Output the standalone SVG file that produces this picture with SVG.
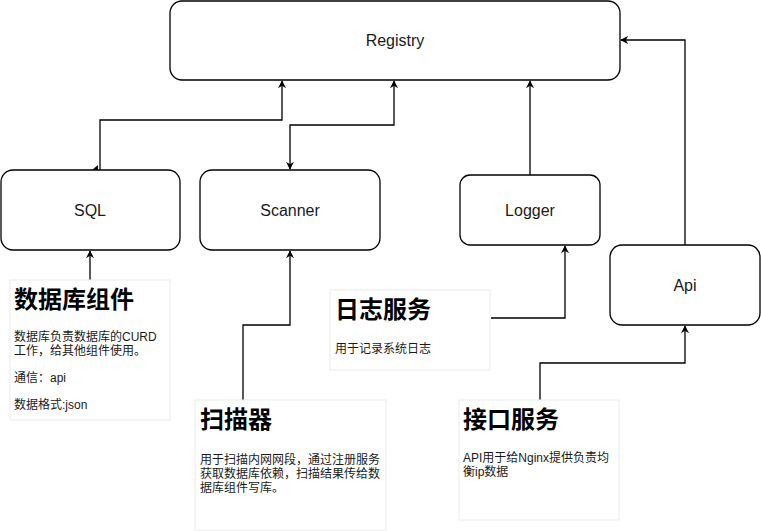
<svg xmlns="http://www.w3.org/2000/svg" width="761" height="531" viewBox="0 0 761 531">
<style>
.node{fill:#fff;stroke:#000;stroke-width:1.3}
.lbl{font-family:"Liberation Sans",Arial,sans-serif;font-size:16px;fill:#1a1a1a;text-anchor:middle}
.note{fill:#fff;stroke:#ececec;stroke-width:1}
.ttl{font-family:"Liberation Sans","Noto Sans CJK SC",sans-serif;font-size:24px;font-weight:bold;fill:#000}
.body{font-family:"Liberation Sans","Noto Sans CJK SC",sans-serif;font-size:12px;fill:#1a1a1a}
.c{fill:none;stroke:#000;stroke-width:1.3}
</style>
<defs>
<marker id="ah" viewBox="0 0 10 10" refX="9" refY="5" markerWidth="8" markerHeight="8" markerUnits="userSpaceOnUse" orient="auto-start-reverse">
<path d="M0,0 L10,5 L0,10 L3,5 Z" fill="#000"/>
</marker>
</defs>
<rect width="761" height="531" fill="#fff"/>
<g id="connectors">
<path class="c" d="M100,170 V120 H282 V81" marker-end="url(#ah)"/>
<polygon points="92,170 98,165 98,170" fill="#000"/>
<path class="c" d="M394,81 V125 H290 V169" marker-start="url(#ah)" marker-end="url(#ah)"/>
<path class="c" d="M530,175 V81" stroke="#555" marker-end="url(#ah)"/>
<path class="c" d="M685,245 V40 H621" marker-end="url(#ah)"/>
<path class="c" d="M90,280 V251" marker-end="url(#ah)"/>
<path class="c" d="M243,400 V325 H290 V251" marker-end="url(#ah)"/>
<path class="c" d="M491,318 H565 V246" marker-end="url(#ah)"/>
<path class="c" d="M540,400 V363 H685 V326" marker-end="url(#ah)"/>
</g>
<g id="registry">
<rect class="node" x="170" y="1" width="450" height="79" rx="12"/>
<text class="lbl" x="395" y="46">Registry</text>
</g>
<g id="sql">
<rect class="node" x="1" y="170" width="179" height="80" rx="12"/>
<text class="lbl" x="90" y="216">SQL</text>
</g>
<g id="scanner">
<rect class="node" x="200" y="170" width="180" height="80" rx="12"/>
<text class="lbl" x="290" y="216">Scanner</text>
</g>
<g id="logger">
<rect class="node" x="460" y="175" width="140" height="70" rx="10"/>
<text class="lbl" x="530" y="216">Logger</text>
</g>
<g id="api">
<rect class="node" x="610" y="245" width="150" height="80" rx="12"/>
<text class="lbl" x="685" y="291">Api</text>
</g>
<g id="note-db">
<rect class="note" x="10" y="280" width="160" height="140"/>
<text class="ttl" x="14" y="308">数据库组件</text>
<text class="body" x="14" y="341">数据库负责数据库的CURD</text>
<text class="body" x="14" y="355">工作，给其他组件使用。</text>
<text class="body" x="14" y="382">通信：api</text>
<text class="body" x="14" y="409">数据格式:json</text>
</g>
<g id="note-scanner">
<rect class="note" x="195" y="400" width="191" height="130"/>
<text class="ttl" x="200" y="428">扫描器</text>
<text class="body" x="200" y="464">用于扫描内网网段，通过注册服务</text>
<text class="body" x="200" y="478">获取数据库依赖，扫描结果传给数</text>
<text class="body" x="200" y="492">据库组件写库。</text>
</g>
<g id="note-logger">
<rect class="note" x="330" y="290" width="160" height="80"/>
<text class="ttl" x="335" y="318">日志服务</text>
<text class="body" x="335" y="353">用于记录系统日志</text>
</g>
<g id="note-api">
<rect class="note" x="459" y="400" width="160" height="120"/>
<text class="ttl" x="463" y="428">接口服务</text>
<text class="body" x="463" y="462">API用于给Nginx提供负责均</text>
<text class="body" x="463" y="476">衡ip数据</text>
</g>
</svg>
